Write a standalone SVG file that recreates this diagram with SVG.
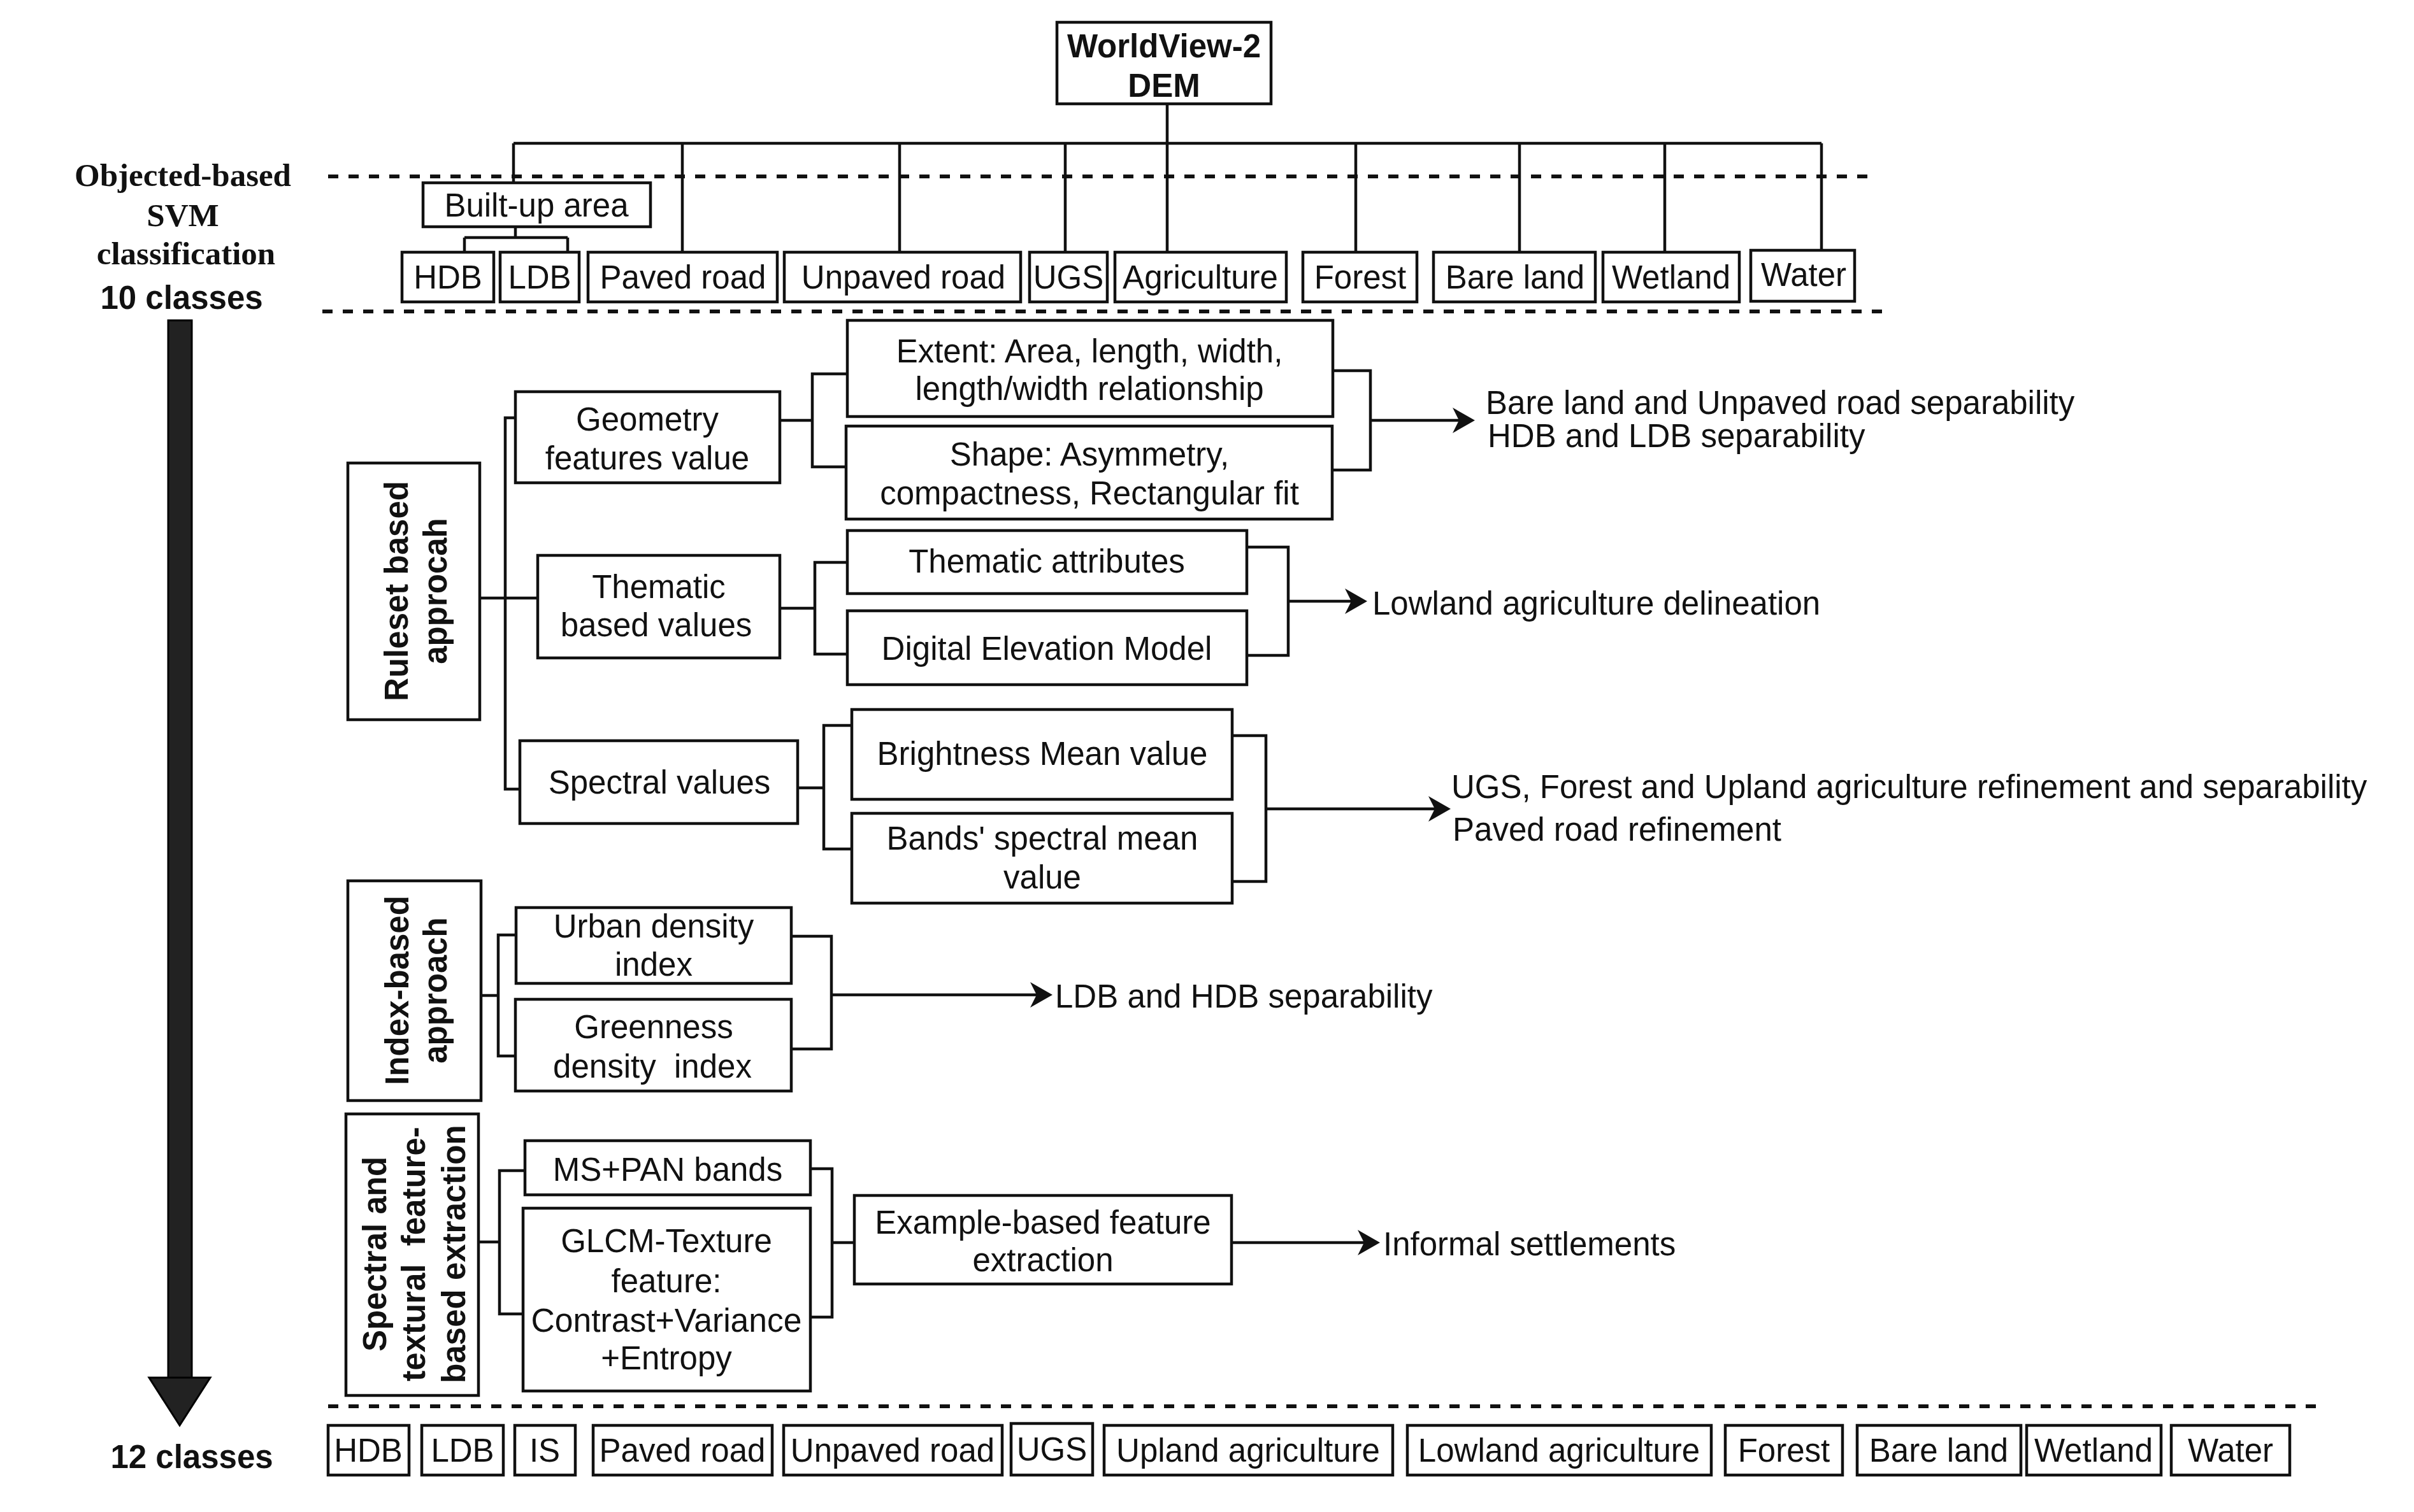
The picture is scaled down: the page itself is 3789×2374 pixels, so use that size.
<svg xmlns="http://www.w3.org/2000/svg" width="3789" height="2374" viewBox="0 0 3789 2374">
<style>
.bg{fill:#fff}
.box{fill:#fff;stroke:#111;stroke-width:4.5}
.t{font-family:"Liberation Sans",Arial,sans-serif;font-size:51px;fill:#111;text-anchor:middle}
.s{text-anchor:start}
.b{font-weight:bold}
.serif{font-family:"Liberation Serif","Times New Roman",serif;font-weight:bold}
.c{fill:none;stroke:#111;stroke-width:4.5}
.d{fill:none;stroke:#111;stroke-width:6;stroke-dasharray:16 16}
</style>
<defs>
<marker id="ah" markerUnits="userSpaceOnUse" markerWidth="40" markerHeight="40" viewBox="0 0 30 32" refX="8" refY="16" orient="auto">
<path d="M0,0 L28,16 L0,32 L8,16 Z" fill="#111"/>
</marker>
</defs>
<rect class="bg" x="0" y="0" width="3789" height="2374"/>

<g id="labels">
<text class="t serif" x="287" y="292">Objected-based</text>
<text class="t serif" x="287" y="355">SVM</text>
<text class="t serif" x="292" y="415">classification</text>
<text class="t b" x="285" y="485">10 classes</text>
<text class="t b" x="301" y="2305">12 classes</text>
</g>

<g id="flow-arrow">
<rect x="264" y="503" width="37" height="1662" fill="#222" stroke="#000" stroke-width="3"/>
<polygon points="234,2163 330,2163 282,2238" fill="#222" stroke="#000" stroke-width="3"/>
</g>

<g id="separators">
<line class="d" x1="515" y1="277" x2="2939" y2="277"/>
<line class="d" x1="506" y1="489" x2="2956" y2="489"/>
<line class="d" x1="515" y1="2208" x2="3635" y2="2208"/>
</g>

<g id="connectors">
<path class="c" d="M1832,163 V396"/>
<path class="c" d="M806,225 H2859"/>
<path class="c" d="M806,225 V287"/>
<path class="c" d="M1071,225 V396 M1412,225 V396 M1672,225 V396 M2128,225 V396 M2385,225 V396 M2613,225 V396 M2859,225 V393"/>
<path class="c" d="M809,356 V373 M729,373 H891 M729,373 V396 M891,373 V396"/>
<path class="c" d="M753,939 H844"/>
<path class="c" d="M809,656 H793 V1239 H816"/>
<path class="c" d="M1224,660 H1275 M1330,587 H1275 V733 H1328"/>
<path class="c" d="M2092,582 H2151 V738 H2091"/>
<path class="c" d="M2151,660 H2290" marker-end="url(#ah)"/>
<path class="c" d="M1224,955 H1279 M1330,883 H1279 V1027 H1330"/>
<path class="c" d="M1957,859 H2022 V1029 H1957"/>
<path class="c" d="M2022,944 H2121" marker-end="url(#ah)"/>
<path class="c" d="M1252,1237 H1293 M1337,1139 H1293 V1333 H1337"/>
<path class="c" d="M1934,1155 H1987 V1384 H1934"/>
<path class="c" d="M1987,1270 H2252" marker-end="url(#ah)"/>
<path class="c" d="M755,1563 H782 M810,1468 H782 V1658 H809"/>
<path class="c" d="M1242,1470 H1305 V1647 H1242"/>
<path class="c" d="M1305,1562 H1627" marker-end="url(#ah)"/>
<path class="c" d="M751,1950 H784 M824,1838 H784 V2063 H821"/>
<path class="c" d="M1272,1835 H1306 V2068 H1272 M1306,1951 H1341"/>
<path class="c" d="M1933,1951 H2141" marker-end="url(#ah)"/>
</g>

<g id="n-source"><rect class="box" x="1659" y="35" width="336" height="128"/>
<text class="t b" x="1827" y="90">WorldView-2</text><text class="t b" x="1827" y="152">DEM</text></g>
<g id="n-builtup"><rect class="box" x="664" y="287" width="357" height="69"/><text class="t" x="842" y="340">Built-up area</text></g>

<g id="n-c10-hdb"><rect class="box" x="631" y="396" width="144" height="78"/><text class="t" x="703" y="453">HDB</text></g>
<g id="n-c10-ldb"><rect class="box" x="785" y="396" width="124" height="78"/><text class="t" x="847" y="453">LDB</text></g>
<g id="n-c10-paved"><rect class="box" x="923" y="396" width="297" height="78"/><text class="t" x="1072" y="453">Paved road</text></g>
<g id="n-c10-unpaved"><rect class="box" x="1231" y="396" width="371" height="78"/><text class="t" x="1418" y="453">Unpaved road</text></g>
<g id="n-c10-ugs"><rect class="box" x="1616" y="396" width="122" height="78"/><text class="t" x="1677" y="453">UGS</text></g>
<g id="n-c10-agri"><rect class="box" x="1750" y="396" width="269" height="78"/><text class="t" x="1884" y="453">Agriculture</text></g>
<g id="n-c10-forest"><rect class="box" x="2045" y="396" width="179" height="78"/><text class="t" x="2135" y="453">Forest</text></g>
<g id="n-c10-bare"><rect class="box" x="2250" y="396" width="254" height="78"/><text class="t" x="2378" y="453">Bare land</text></g>
<g id="n-c10-wetland"><rect class="box" x="2516" y="396" width="214" height="78"/><text class="t" x="2623" y="453">Wetland</text></g>
<g id="n-c10-water"><rect class="box" x="2748" y="393" width="163" height="80"/><text class="t" x="2831" y="449">Water</text></g>

<g id="n-ruleset"><rect class="box" x="546" y="727" width="207" height="403"/>
<text class="t b" transform="translate(640,928) rotate(-90)">Ruleset based</text>
<text class="t b" transform="translate(701,928) rotate(-90)">approcah</text></g>
<g id="n-geometry"><rect class="box" x="809" y="615" width="415" height="143"/>
<text class="t" x="1016" y="676">Geometry</text><text class="t" x="1016" y="737">features value</text></g>
<g id="n-thematic"><rect class="box" x="844" y="872" width="380" height="161"/>
<text class="t" x="1034" y="939">Thematic</text><text class="t" x="1030" y="999">based values</text></g>
<g id="n-spectral"><rect class="box" x="816" y="1163" width="436" height="130"/>
<text class="t" x="1035" y="1246">Spectral values</text></g>
<g id="n-extent"><rect class="box" x="1330" y="503" width="762" height="151"/>
<text class="t" x="1710" y="569">Extent: Area, length, width,</text><text class="t" x="1710" y="628">length/width relationship</text></g>
<g id="n-shape"><rect class="box" x="1328" y="669" width="763" height="146"/>
<text class="t" x="1710" y="731">Shape: Asymmetry,</text><text class="t" x="1710" y="792">compactness, Rectangular fit</text></g>
<g id="n-thattr"><rect class="box" x="1330" y="833" width="627" height="99"/>
<text class="t" x="1643" y="899">Thematic attributes</text></g>
<g id="n-dem"><rect class="box" x="1330" y="959" width="627" height="116"/>
<text class="t" x="1643" y="1036">Digital Elevation Model</text></g>
<g id="n-bright"><rect class="box" x="1337" y="1114" width="597" height="141"/>
<text class="t" x="1636" y="1201">Brightness Mean value</text></g>
<g id="n-bands"><rect class="box" x="1337" y="1277" width="597" height="141"/>
<text class="t" x="1636" y="1334">Bands' spectral mean</text><text class="t" x="1636" y="1395">value</text></g>

<g id="out-geom"><text class="t s" x="2332" y="650">Bare land and Unpaved road separability</text>
<text class="t s" x="2335" y="702">HDB and LDB separability</text></g>
<g id="out-them"><text class="t s" x="2154" y="965">Lowland agriculture delineation</text></g>
<g id="out-spec"><text class="t s" x="2278" y="1253">UGS, Forest and Upland agriculture refinement and separability</text>
<text class="t s" x="2280" y="1320">Paved road refinement</text></g>

<g id="n-index"><rect class="box" x="546" y="1383" width="209" height="345"/>
<text class="t b" transform="translate(641,1555) rotate(-90)">Index-based</text>
<text class="t b" transform="translate(701,1555) rotate(-90)">approach</text></g>
<g id="n-urban"><rect class="box" x="810" y="1425" width="432" height="119"/>
<text class="t" x="1026" y="1472">Urban density</text><text class="t" x="1026" y="1532">index</text></g>
<g id="n-green"><rect class="box" x="809" y="1569" width="433" height="144"/>
<text class="t" x="1026" y="1630">Greenness</text><text class="t" x="1024" y="1692" xml:space="preserve">density  index</text></g>
<g id="out-index"><text class="t s" x="1656" y="1582">LDB and HDB separability</text></g>

<g id="n-sptex"><rect class="box" x="543" y="1749" width="208" height="442"/>
<text class="t b" transform="translate(606,1969) rotate(-90)">Spectral and</text>
<text class="t b" transform="translate(667,1969) rotate(-90)" xml:space="preserve">textural  feature-</text>
<text class="t b" transform="translate(730,1969) rotate(-90)">based extraction</text></g>
<g id="n-mspan"><rect class="box" x="824" y="1791" width="448" height="85"/>
<text class="t" x="1048" y="1854">MS+PAN bands</text></g>
<g id="n-glcm"><rect class="box" x="821" y="1897" width="451" height="287"/>
<text class="t" x="1046" y="1966">GLCM-Texture</text><text class="t" x="1046" y="2029">feature:</text>
<text class="t" x="1046" y="2091" textLength="425" lengthAdjust="spacingAndGlyphs">Contrast+Variance</text><text class="t" x="1046" y="2150">+Entropy</text></g>
<g id="n-example"><rect class="box" x="1341" y="1877" width="592" height="139"/>
<text class="t" x="1637" y="1937">Example-based feature</text><text class="t" x="1637" y="1996">extraction</text></g>
<g id="out-example"><text class="t s" x="2171" y="1971">Informal settlements</text></g>

<g id="n-c12-hdb"><rect class="box" x="515" y="2238" width="127" height="78"/><text class="t" x="578" y="2295">HDB</text></g>
<g id="n-c12-ldb"><rect class="box" x="662" y="2238" width="128" height="78"/><text class="t" x="726" y="2295">LDB</text></g>
<g id="n-c12-is"><rect class="box" x="808" y="2238" width="95" height="78"/><text class="t" x="855" y="2295">IS</text></g>
<g id="n-c12-paved"><rect class="box" x="931" y="2238" width="281" height="78"/><text class="t" x="1071" y="2295">Paved road</text></g>
<g id="n-c12-unpaved"><rect class="box" x="1230" y="2238" width="343" height="78"/><text class="t" x="1401" y="2295">Unpaved road</text></g>
<g id="n-c12-ugs"><rect class="box" x="1587" y="2235" width="128" height="81"/><text class="t" x="1651" y="2293">UGS</text></g>
<g id="n-c12-upland"><rect class="box" x="1733" y="2238" width="453" height="78"/><text class="t" x="1959" y="2295">Upland agriculture</text></g>
<g id="n-c12-lowland"><rect class="box" x="2209" y="2238" width="477" height="78"/><text class="t" x="2447" y="2295">Lowland agriculture</text></g>
<g id="n-c12-forest"><rect class="box" x="2708" y="2238" width="184" height="78"/><text class="t" x="2800" y="2295">Forest</text></g>
<g id="n-c12-bare"><rect class="box" x="2915" y="2238" width="257" height="78"/><text class="t" x="3043" y="2295">Bare land</text></g>
<g id="n-c12-wetland"><rect class="box" x="3181" y="2238" width="211" height="78"/><text class="t" x="3286" y="2295">Wetland</text></g>
<g id="n-c12-water"><rect class="box" x="3408" y="2238" width="186" height="78"/><text class="t" x="3501" y="2295">Water</text></g>
</svg>
